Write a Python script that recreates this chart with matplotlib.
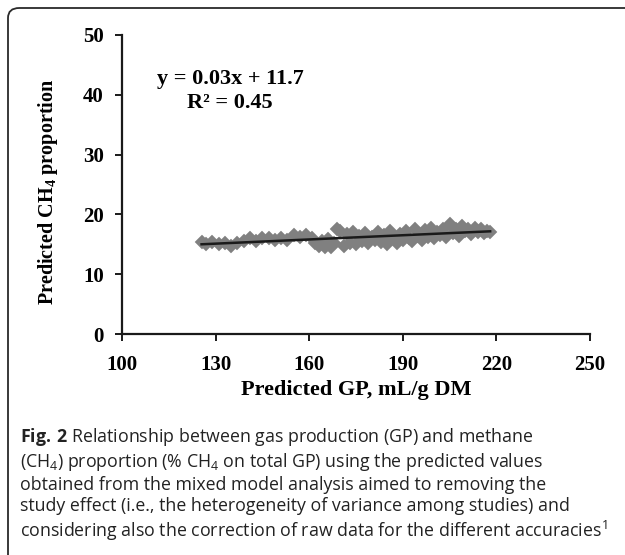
#!/usr/bin/env python3

import matplotlib
matplotlib.use("Agg")
import matplotlib.pyplot as plt
from matplotlib.patches import FancyBboxPatch
import numpy as np

# predicted values
gp = [125.5, 127, 129, 131, 133, 135, 137, 139, 141, 143, 145, 147, 149, 151,
      153, 155, 157, 159, 161, 162, 163, 164, 165, 166, 167, 168, 169, 170,
      171, 172, 173, 174, 175, 176, 177, 178, 179, 180, 181, 182, 183, 184,
      185, 186, 187, 188, 189, 190, 191, 192, 193, 194, 195, 196, 197, 198,
      199, 200, 201, 202, 203, 204, 205, 206, 207, 208, 209, 210, 211, 212,
      213, 214, 215, 216, 217, 218]
ch4 = [15.4, 15.0, 15.4, 15.1, 15.2, 14.8, 15.3, 15.5, 16.1, 15.5, 16.0, 16.1,
       15.8, 16.0, 15.7, 16.6, 16.2, 16.5, 16.1, 15.2, 14.8, 15.6, 14.6, 15.9,
       14.5, 15.2, 17.6, 17.2, 14.7, 16.8, 15.3, 17.1, 15.0, 16.4, 15.6, 16.9,
       15.2, 16.2, 15.8, 17.0, 15.4, 16.6, 15.1, 17.2, 16.0, 15.3, 16.7, 15.8,
       17.2, 16.1, 15.6, 17.5, 16.4, 15.8, 17.4, 16.2, 17.8, 16.0, 17.1, 16.5,
       17.6, 16.3, 18.4, 16.9, 17.6, 16.4, 18.0, 17.2, 17.6, 16.7, 17.8, 17.1,
       17.5, 16.9, 17.3, 17.1]

eqText = "y = 0.03x + 11.7"
r2Text = "R² = 0.45"
xTicks = [100, 130, 160, 190, 220, 250]
yTicks = [0, 10, 20, 30, 40, 50]

caption = ("$\\mathsf{Fig.\\,2}$ Relationship between gas production (GP) and methane\n"
           "(CH$_4$) proportion (% CH$_4$ on total GP) using the predicted values\n"
           "obtained from the mixed model analysis aimed to removing the\n"
           "study effect (i.e., the heterogeneity of variance among studies) and\n"
           "considering also the correction of raw data for the different accuracies$^1$")

plt.rcParams['mathtext.fontset'] = 'custom'
plt.rcParams['mathtext.rm'] = 'Open Sans'
plt.rcParams['mathtext.sf'] = 'Open Sans:bold'
plt.rcParams['mathtext.bf'] = 'Liberation Serif:bold'

serif = 'Liberation Serif'

fig = plt.figure(figsize=(6.25, 5.55), dpi=100)
ax = fig.add_axes([0.1952, 0.398, 0.7488, 0.539])

ax.plot(gp, ch4, 'D', color='#808080', ms=7.5, mec='#808080', mew=0.3, zorder=2)

# linear trend
coef = np.polyfit(gp, ch4, 1)
xl = np.array([min(gp), max(gp)])
ax.plot(xl, np.polyval(coef, xl), '-', color='#1a1a1a', lw=1.8, zorder=3)

ax.text(134.6, 42.6, eqText, ha='center', va='center', family=serif,
        fontweight='bold', fontsize=16)
ax.text(134.6, 38.6, r2Text, ha='center', va='center', family=serif,
        fontweight='bold', fontsize=16)

ax.set_xlim(100, 250)
ax.set_ylim(0, 50)
ax.set_xticks(xTicks)
ax.set_yticks(yTicks)
for s in ['top', 'right']:
  ax.spines[s].set_visible(False)
for s in ['left', 'bottom']:
  ax.spines[s].set_linewidth(1.6)
  ax.spines[s].set_color('#1a1a1a')
ax.tick_params(direction='out', length=5, width=1.4, color='#1a1a1a')
ax.tick_params(axis='x', pad=10)
ax.tick_params(axis='y', pad=8)
for lab in ax.get_xticklabels() + ax.get_yticklabels():
  lab.set_family(serif)
  lab.set_fontweight('bold')
  lab.set_fontsize(15)

ax.set_xlabel("Predicted GP, mL/g DM", family=serif, fontweight='bold',
              fontsize=16)
ax.xaxis.set_label_coords(0.5, -0.155)
ax.set_ylabel("Predicted CH$\\mathbf{_4}$ proportion", family=serif,
              fontweight='bold', fontsize=14.5)
ax.yaxis.set_label_coords(-0.133, 0.475)

fig.text(0.032, 0.233, caption, ha='left', va='top', family='Open Sans',
         fontsize=12.8, linespacing=1.22, color='#222222')

# rounded frame around figure and caption
box = FancyBboxPatch((8/625, -0.05), 1.1, 0.05 + 1 - 8/555,
                     boxstyle="round,pad=0,rounding_size=0.018",
                     transform=fig.transFigure, fill=False,
                     ec='#2a2a2a', lw=1.3)
fig.patches.append(box)

fig.savefig("out.png", dpi=100)
